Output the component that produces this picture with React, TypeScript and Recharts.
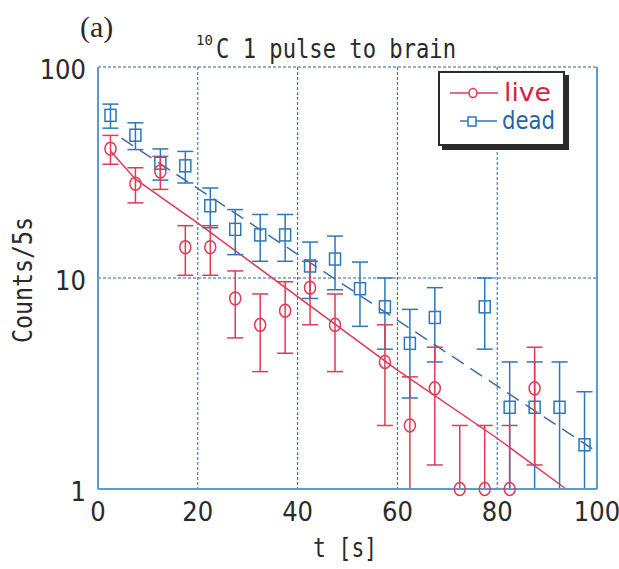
import {
  CartesianGrid,
  ComposedChart,
  Customized,
  ErrorBar,
  Legend,
  Line,
  ReferenceLine,
  Scatter,
  XAxis,
  YAxis,
} from 'recharts';

// bin centres (s)
const times = [
  2.5, 7.5, 12.5, 17.5, 22.5, 27.5, 32.5, 37.5, 42.5, 47.5, 52.5, 57.5, 62.5,
  67.5, 72.5, 77.5, 82.5, 87.5, 92.5, 97.5,
];
const liveCounts = [41, 28, 32, 14, 14, 8, 6, 7, 9, 6, null, 4, 2, 3, 1, 1, 1, 3, null, null];
const liveErrors = [6.4, 5.3, 5.7, 3.7, 3.7, 2.8, 2.4, 2.6, 3, 2.4, null, 2, 1.4, 1.7, 1, 1, 1, 1.7, null, null];
const deadCounts = [59, 47.5, 35, 34, 22, 17, 16, 16, 11.4, 12.3, 8.9, 7.3, 4.9, 6.5, null, 7.3, 2.44, 2.44, 2.44, 1.62];
const deadErrors = [7.7, 6.9, 5.9, 5.8, 4.7, 4.1, 4, 4, 3.4, 3.5, 3, 2.7, 2.2, 2.5, null, 2.7, 1.56, 1.56, 1.56, 1.27];

// fit curves
const liveFitT = [2.5, 7.5, 20, 60, 80, 93.8];
const liveFitY = [40, 29.4, 18.2, 3.66, 1.74, 1];
const deadFitT = [4.7, 100];
const deadFitY = [46, 1.5];

const xTicks = [0, 20, 40, 60, 80, 100];
const yTicks = [1, 10, 100];

const RED = '#e03a55';
const BLUE = '#2a78bd';
const GRID = '#2f64a0';
const FRAME = '#5b9bd5';
const INK = '#2a2a2a';
const NARROW = '"Liberation Sans Narrow", "DejaVu Sans Condensed", sans-serif';
const MONO = '"DejaVu Sans Mono", monospace';

const toPoints = (counts: (number | null)[], errs: (number | null)[]) =>
  times.flatMap((t, i) => {
    const y = counts[i];
    const e = errs[i];
    if (y == null || e == null) return [];
    // lower bar stops at the bottom of the log axis
    return [{ t, y, err: [Math.max(0, Math.min(e, y - 1)), e] }];
  });

const livePoints = toPoints(liveCounts, liveErrors);
const deadPoints = toPoints(deadCounts, deadErrors);
const liveFit = liveFitT.map((t, i) => ({ t, y: liveFitY[i] }));
const deadFit = deadFitT.map((t, i) => ({ t, y: deadFitY[i] }));

const CircleDot = (props: any) => (
  <ellipse cx={props.cx} cy={props.cy} rx={5.5} ry={6.5} fill="none" stroke={RED} strokeWidth={1.5} />
);

const SquareDot = (props: any) => (
  <rect x={props.cx - 5.5} y={props.cy - 6} width={11} height={12} fill="none" stroke={BLUE} strokeWidth={1.5} />
);

const XTick = ({ x, y, payload }: any) => (
  <text x={x} y={y + 32} textAnchor="middle" fontFamily={NARROW} fontSize={27} fill={INK}>
    {payload.value}
  </text>
);

const YTick = ({ x, y, payload }: any) => (
  <text x={x} y={y + 12} textAnchor="end" fontFamily={NARROW} fontSize={27} fill={INK}>
    {payload.value}
  </text>
);

const Texts = () => (
  <g>
    <text x={80} y={37} fontFamily='"Liberation Serif", serif' fontSize={30} fill={INK}>
      (a)
    </text>
    <text x={196} y={45} fontFamily={MONO} fontSize={14} fill={INK}>
      10
    </text>
    <text x={216} y={58} fontFamily={MONO} fontSize={26} fill={INK} textLength={240} lengthAdjust="spacingAndGlyphs">
      C 1 pulse to brain
    </text>
    <text
      x={0}
      y={0}
      transform="translate(32,280) rotate(-90)"
      textAnchor="middle"
      fontFamily={MONO}
      fontSize={26}
      fill={INK}
      textLength={126}
      lengthAdjust="spacingAndGlyphs"
    >
      Counts/5s
    </text>
    <text x={345} y={557} textAnchor="middle" fontFamily={MONO} fontSize={26} fill={INK} textLength={64} lengthAdjust="spacingAndGlyphs">
      t [s]
    </text>
  </g>
);

const LegendBox = () => (
  <div
    style={{
      width: 127,
      height: 75,
      boxSizing: 'border-box',
      border: '2px solid #2b2b2b',
      boxShadow: '4px 4px 0 #2b2b2b',
      background: '#fff',
    }}
  >
    <svg width={123} height={71} style={{ display: 'block' }}>
      <line x1={10} y1={20} x2={58} y2={20} stroke={RED} strokeWidth={1.5} />
      <ellipse cx={33} cy={20} rx={4} ry={4.5} fill="#fff" stroke={RED} strokeWidth={1.5} />
      <text x={64} y={28} fontFamily={NARROW} fontSize={24} fill="#d81e3c" textLength={47} lengthAdjust="spacingAndGlyphs">
        live
      </text>
      <line x1={20} y1={48} x2={57} y2={48} stroke={BLUE} strokeWidth={1.5} />
      <rect x={28} y={44} width={8} height={9} fill="#fff" stroke={BLUE} strokeWidth={1.5} />
      <text x={62} y={56} fontFamily={NARROW} fontSize={24} fill="#1e64a8" textLength={53} lengthAdjust="spacingAndGlyphs">
        dead
      </text>
    </svg>
  </div>
);

export default function App() {
  return (
    <div style={{ position: 'absolute', left: 0, top: 0, background: '#fff' }}>
      <ComposedChart width={619} height={569} margin={{ top: 67, right: 22, bottom: 0, left: 0 }}>
        <CartesianGrid stroke={GRID} strokeDasharray="3 2" />
        <XAxis
          type="number"
          dataKey="t"
          domain={[0, 100]}
          ticks={xTicks}
          height={80}
          tickLine={false}
          tickSize={0}
          tickMargin={0}
          tick={<XTick />}
          axisLine={{ stroke: FRAME, strokeWidth: 2 }}
        />
        <YAxis
          type="number"
          dataKey="y"
          scale="log"
          domain={[1, 100]}
          ticks={yTicks}
          width={98}
          tickLine={false}
          tickSize={0}
          tickMargin={12}
          tick={<YTick />}
          axisLine={{ stroke: FRAME, strokeWidth: 2 }}
        />
        <ReferenceLine x={100} stroke={FRAME} strokeWidth={2} />
        <Line
          data={liveFit}
          dataKey="y"
          type="linear"
          stroke={RED}
          strokeWidth={1.5}
          dot={false}
          isAnimationActive={false}
        />
        <Line
          data={deadFit}
          dataKey="y"
          type="linear"
          stroke="#3d6da6"
          strokeWidth={1.5}
          strokeDasharray="14 8"
          dot={false}
          isAnimationActive={false}
        />
        <Scatter data={deadPoints} dataKey="y" shape={<SquareDot />} isAnimationActive={false}>
          <ErrorBar dataKey="err" direction="y" width={8} stroke={BLUE} strokeWidth={1.5} />
        </Scatter>
        <Scatter data={livePoints} dataKey="y" shape={<CircleDot />} isAnimationActive={false}>
          <ErrorBar dataKey="err" direction="y" width={8} stroke={RED} strokeWidth={1.5} />
        </Scatter>
        <Legend
          layout="horizontal"
          verticalAlign="middle"
          align="center"
          content={<LegendBox />}
          wrapperStyle={{ left: 438, top: 71, width: 127, height: 75 }}
        />
        <Customized component={<Texts />} />
      </ComposedChart>
    </div>
  );
}
